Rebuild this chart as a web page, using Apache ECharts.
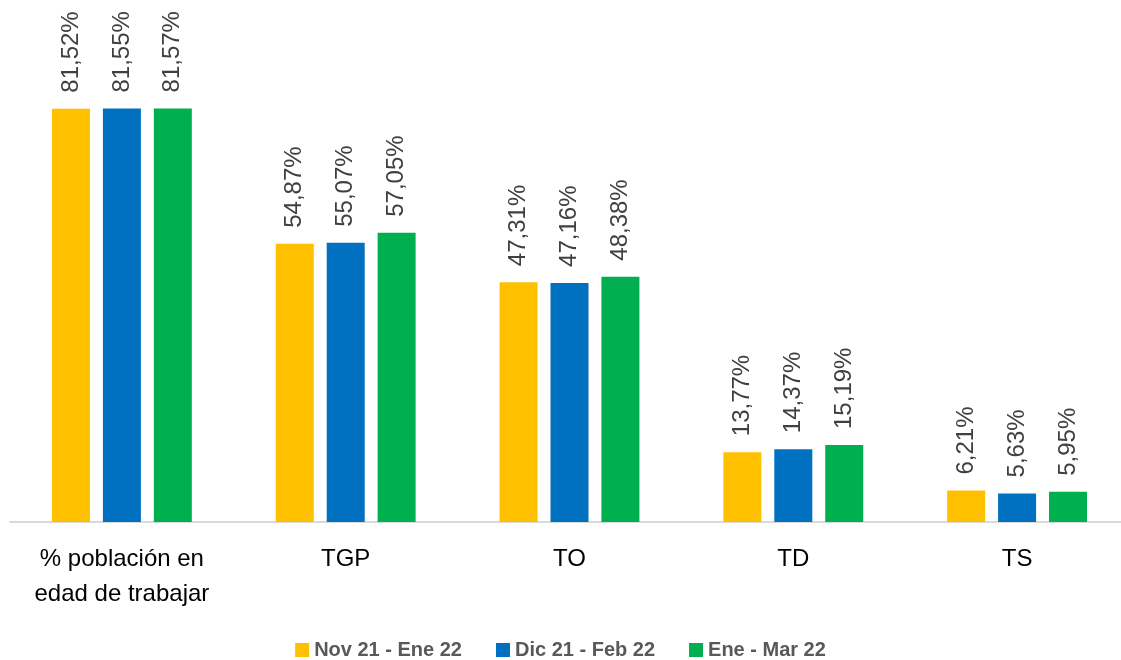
<!DOCTYPE html>
<html>
<head>
<meta charset="utf-8">
<script src="https://cdn.jsdelivr.net/npm/echarts@6/dist/echarts.min.js"></script>
<style>
html,body{margin:0;padding:0;background:#fff;}
#chart{width:1121px;height:660px;}
</style>
</head>
<body>
<div id="chart"></div>
<script>
var categorias = ['% población en\nedad de trabajar', 'TGP', 'TO', 'TD', 'TS'];
var nombres = ['Nov 21 - Ene 22', 'Dic 21 - Feb 22', 'Ene - Mar 22'];
var novEne = [81.52, 54.87, 47.31, 13.77, 6.21];
var dicFeb = [81.55, 55.07, 47.16, 14.37, 5.63];
var eneMar = [81.57, 57.05, 48.38, 15.19, 5.95];
var colores = ['#FFC000', '#0070C0', '#00B050'];

var fuente = '"Liberation Sans", "Noto Sans", sans-serif';

function serie(nombre, datos, color) {
	return {
		name: nombre,
		type: 'bar',
		barWidth: 38,
		barGap: '34%',
		itemStyle: { color: color },
		label: {
			show: true,
			position: 'top',
			rotate: 90,
			align: 'left',
			verticalAlign: 'middle',
			distance: 16,
			fontFamily: fuente,
			fontSize: 24,
			color: '#404040',
			formatter: function (p) {
				return p.value.toFixed(2).replace('.', ',') + '%';
			}
		},
		data: datos
	};
}

var grafico = echarts.init(document.getElementById('chart'));
grafico.setOption({
	animation: false,
	color: colores,
	grid: { left: 10, right: -8, top: 15, bottom: 138, containLabel: false, outerBoundsMode: 'none' },
	legend: {
		top: 635,
		left: 'center',
		itemWidth: 14,
		itemHeight: 14,
		itemGap: 34,
		icon: 'rect',
		textStyle: { fontFamily: fuente, fontSize: 20, fontWeight: 'bold', color: '#595959' },
		data: nombres
	},
	xAxis: {
		type: 'category',
		data: categorias,
		axisLine: { lineStyle: { color: '#d9d9d9', width: 2 } },
		axisTick: { show: false },
		axisLabel: {
			interval: 0,
			hideOverlap: false,
			margin: 20,
			fontFamily: fuente,
			fontSize: 24,
			lineHeight: 35,
			color: '#000'
		}
	},
	yAxis: {
		type: 'value',
		min: 0,
		max: 100,
		show: false,
		splitLine: { show: false }
	},
	series: [
		serie(nombres[0], novEne, colores[0]),
		serie(nombres[1], dicFeb, colores[1]),
		serie(nombres[2], eneMar, colores[2])
	]
});
</script>
</body>
</html>
